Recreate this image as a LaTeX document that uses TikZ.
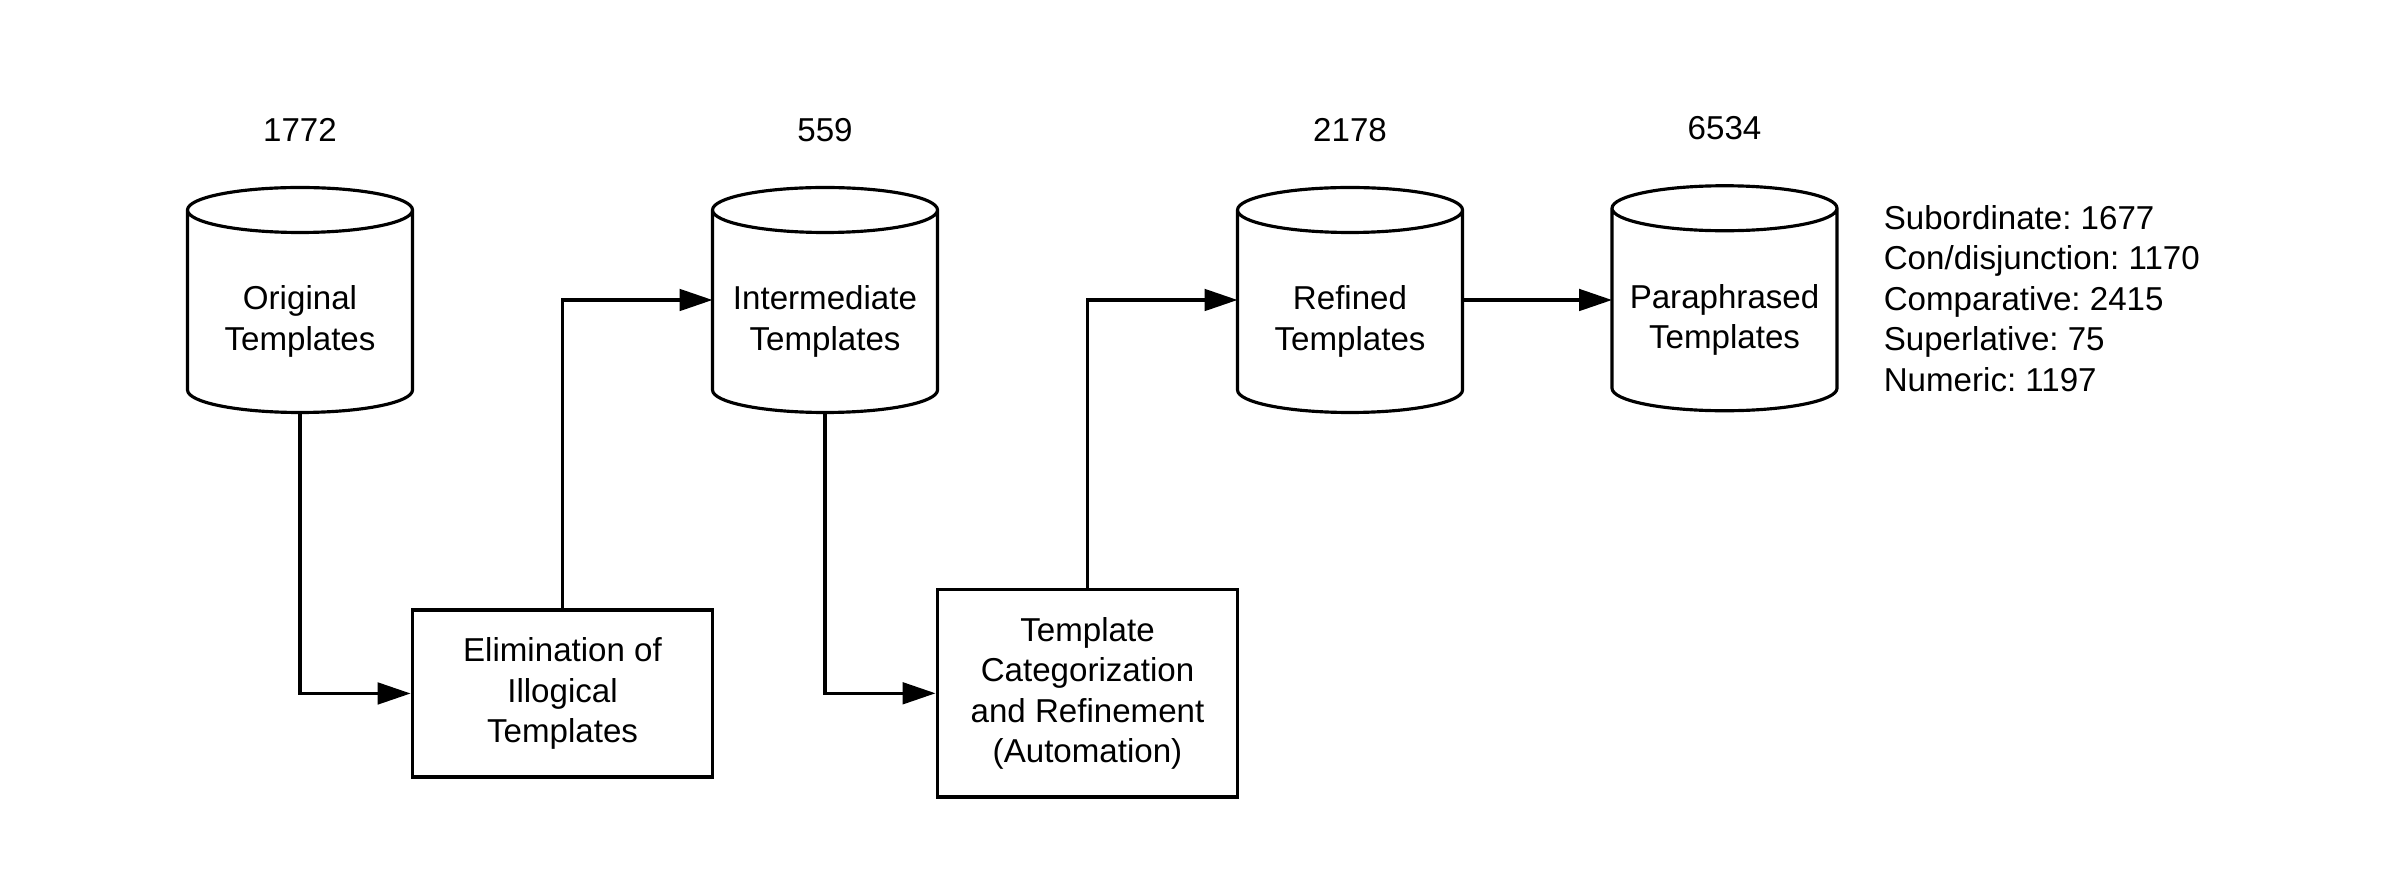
\documentclass[tikz,border=0pt]{standalone}
\usepackage{fontspec}
\setmainfont{Liberation Sans}
\usepackage{tikz}
\usetikzlibrary{arrows.meta}
\usetikzlibrary{positioning}
\frenchspacing

\tikzset{
  store/.style={rectangle, minimum width=3.75cm, minimum height=3.75cm, inner sep=0pt,
    outer sep=0pt, align=center, text height=51pt},
  process/.style={rectangle, draw, line width=1.5pt, align=center, inner sep=0pt},
  count/.style={inner sep=0pt, outer sep=0pt},
  flow/.style={line width=1.5pt, -{Triangle[length=0.55cm,width=0.36cm]}}
}

\begin{document}
\begin{tikzpicture}[font=\fontsize{15.7}{19.2}\selectfont]
\useasboundingbox (0,0) rectangle (40,14.533);

\node[store] (orig) at (5,9.533) {Original\\Templates};
\node[store] (inter) at (13.75,9.533) {Intermediate\\Templates};
\node[store] (refined) at (22.5,9.533) {Refined\\Templates};
\node[store] (para) at (28.742,9.562) {Paraphrased\\Templates};

% cylinder outlines round the stores
\foreach \n in {orig,inter,refined,para}{
  \draw[line width=1.5pt] ([yshift=-0.375cm]\n.north west) -- ([yshift=0.375cm]\n.south west)
    arc[start angle=180, end angle=360, x radius=1.875cm, y radius=0.375cm]
    -- ([yshift=-0.375cm]\n.north east)
    arc[start angle=0, end angle=360, x radius=1.875cm, y radius=0.375cm];
}

\node[process, minimum width=5.01cm, minimum height=2.783cm] (elim) at (9.375,2.975)%
{Elimination of\\Illogical\\Templates};
\node[process, minimum width=5.013cm, minimum height=3.458cm] (categ) at (18.125,2.978)%
{Template\\Categorization\\and Refinement\\(Automation)};

\node[count, above=0.765cm of orig] (norig) {1772};
\node[count, above=0.765cm of inter] (ninter) {559};
\node[count, above=0.765cm of refined] (nrefined) {2178};
\node[count, above=0.765cm of para] (npara) {6534};

\node[count, align=left, right=0.78cm of para] (kinds)%
{Subordinate: 1677\\Con/disjunction: 1170\\Comparative: 2415\\Superlative: 75\\Numeric: 1197};

\draw[flow] (orig.south) |- (elim.west);
\draw[flow] (elim.north) |- (inter.west);
\draw[flow] (inter.south) |- (categ.west);
\draw[flow] (categ.north) |- (refined.west);
\draw[flow] (refined.east) -- (refined.east -| para.west);

\end{tikzpicture}
\end{document}
